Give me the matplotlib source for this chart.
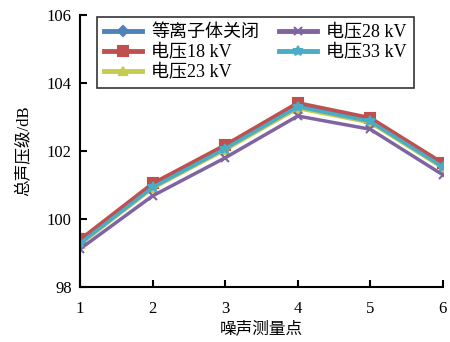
import matplotlib.pyplot as plt
import numpy as np

plt.rcParams['font.family'] = ['Liberation Serif', 'Noto Sans CJK SC']
plt.rcParams['axes.unicode_minus'] = False

# measurement points and total SPL per case
points = [1, 2, 3, 4, 5, 6]
spl_off = [99.3, 100.95, 102.1, 103.33, 102.9, 101.55]
spl_18 = [99.4, 101.05, 102.18, 103.42, 102.98, 101.65]
spl_23 = [99.25, 100.9, 102.03, 103.25, 102.83, 101.5]
spl_28 = [99.12, 100.68, 101.8, 103.03, 102.64, 101.3]
spl_33 = [99.28, 100.93, 102.07, 103.3, 102.87, 101.53]

series = [
    ('等离子体关闭', spl_off, '#4F81BD', 'D', 5),
    ('电压18 kV', spl_18, '#C0504D', 's', 7),
    ('电压23 kV', spl_23, '#C3CC4E', '^', 6),
    ('电压28 kV', spl_28, '#8064A2', 'x', 6),
    ('电压33 kV', spl_33, '#4BACC6', '*', 7),
]

fig = plt.figure(figsize=(4.5, 3.42), dpi=100)
ax = fig.add_axes([0.178, 0.161, 0.806, 0.795])

for label, vals, color, marker, ms in series:
    ax.plot(points, vals, color=color, lw=2.5, marker=marker, ms=ms,
            mew=1.5, label=label)

ax.set_xlim(1, 6)
ax.set_ylim(98, 106)
ax.set_xticks(points)
ax.set_yticks(np.arange(98, 107, 2))
ax.tick_params(direction='in', length=5, width=1.5, labelsize=12, pad=10,
               colors='black')
ax.tick_params(axis='y', pad=6)
for side in ['top', 'right']:
    ax.spines[side].set_visible(False)
for side in ['left', 'bottom']:
    ax.spines[side].set_linewidth(1.5)

ax.set_xlabel('噪声测量点', fontsize=12, labelpad=3)
ax.set_ylabel('总声压级/dB', fontsize=12, labelpad=10)

leg = ax.legend(loc='upper left', bbox_to_anchor=(0.216, 0.950),
                bbox_transform=fig.transFigure, ncol=2, fontsize=13,
                frameon=True, fancybox=False, handlelength=2.1,
                borderpad=0.4, borderaxespad=0, labelspacing=0.15,
                columnspacing=1.1, handletextpad=0.5)
leg.get_frame().set_edgecolor('black')
leg.get_frame().set_linewidth(1.2)
for line in leg.get_lines():
    line.set_linewidth(3.5)

fig.savefig('out.png', dpi=100, facecolor='white')
